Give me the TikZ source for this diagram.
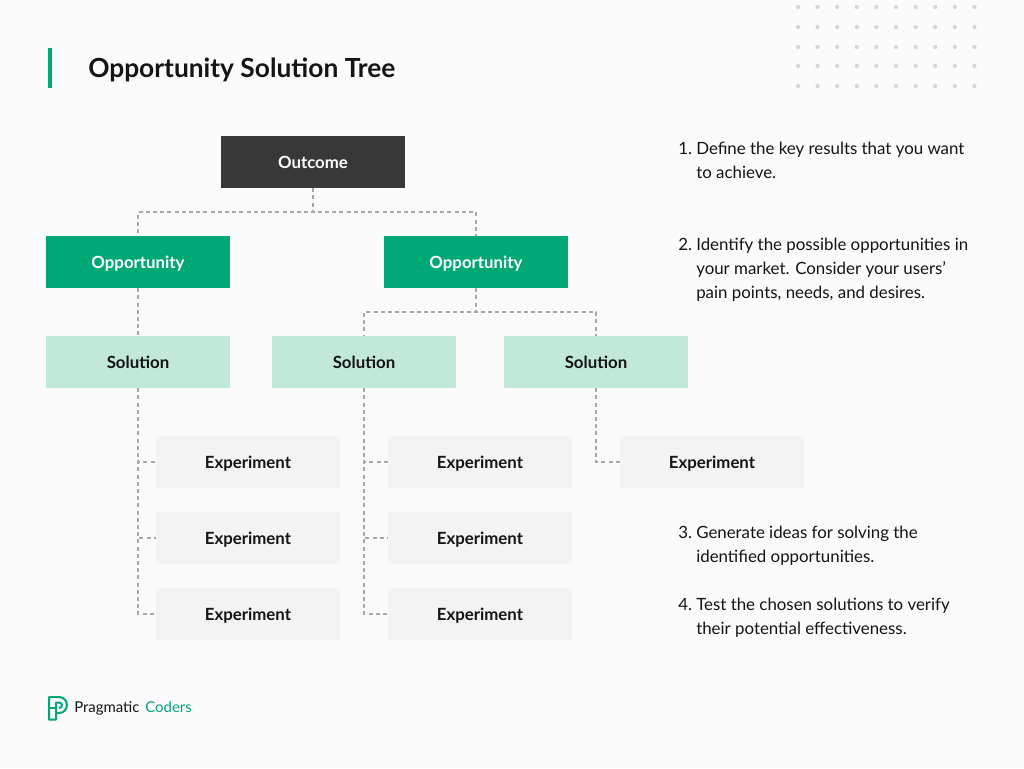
\documentclass[tikz,border=0pt]{standalone}
\usepackage{fontspec}
\setmainfont{Lato}
\usetikzlibrary{positioning}
\definecolor{bgpage}{HTML}{FBFBFB}
\definecolor{ink}{HTML}{141414}
\definecolor{darkbox}{HTML}{383838}
\definecolor{brand}{HTML}{00A876}
\definecolor{palegreen}{HTML}{C2E9D8}
\definecolor{palegrey}{HTML}{F3F3F3}
\definecolor{linkgrey}{HTML}{A8A8A8}
\definecolor{dotgrey}{HTML}{D6D6D6}
\tikzset{
  treebox/.style={minimum width=138pt,minimum height=39pt,inner sep=0pt,text height=9.5pt,text depth=0.5pt,font=\fontsize{12.6pt}{14pt}\selectfont\bfseries},
  outcomebox/.style={treebox,fill=darkbox,text=white},
  oppbox/.style={treebox,fill=brand,text=white},
  solbox/.style={treebox,fill=palegreen,text=ink},
  expbox/.style={treebox,fill=palegrey,text=ink},
  link/.style={draw=linkgrey,line width=1.6pt,dash pattern=on 3pt off 2.4pt},
  note/.style={anchor=base west,inner sep=0pt,text=ink,font=\fontsize{12.65pt}{14pt}\selectfont},
  logomark/.style={brand,line width=1.5pt,line join=round}
}
\begin{document}
\begin{tikzpicture}[x=0.75pt,y=-0.75pt]
  \useasboundingbox[fill=bgpage] (0,0) rectangle (1024,768);
  % dots top right
  \foreach \row in {7,27,47,66,86}
    \foreach \col in {0,...,9}
      \fill[dotgrey] (798+19.6*\col,\row) circle [radius=1.6pt];
  % title
  \fill[brand] (48,48) rectangle (52,88);
  \node (title) [anchor=base west,inner sep=0pt,text=ink,font=\fontsize{19.75pt}{22pt}\selectfont\bfseries] at (88,77.5) {Opportunity Solution Tree};
  % tree
  \node (outcome) [outcomebox] at (313,162) {Outcome};
  \node (oppa) [oppbox] at (138,262) {Opportunity};
  \node (oppb) [oppbox] at (476,262) {Opportunity};
  \node (sola) [solbox] at (138,362) {Solution};
  \node (solb) [solbox] at (364,362) {Solution};
  \node (solc) [solbox] at (596,362) {Solution};
  \node (expa) [expbox] at (248,462) {Experiment};
  \node (expb) [expbox] at (248,538) {Experiment};
  \node (expc) [expbox] at (248,614) {Experiment};
  \node (expd) [expbox] at (480,462) {Experiment};
  \node (expe) [expbox] at (480,538) {Experiment};
  \node (expf) [expbox] at (480,614) {Experiment};
  \node (expg) [expbox] at (712,462) {Experiment};
  % links
  \draw [link] (outcome.south) -- ++(0,24) -| (oppa.north);
  \draw [link] (outcome.south) -- ++(0,24) -| (oppb.north);
  \draw [link] (oppa.south) -- (sola.north);
  \draw [link] (oppb.south) -- ++(0,24) -| (solb.north);
  \draw [link] (oppb.south) -- ++(0,24) -| (solc.north);
  \draw [link] (sola.south) |- (expa.west);
  \draw [link] (sola.south) |- (expb.west);
  \draw [link] (sola.south) |- (expc.west);
  \draw [link] (solb.south) |- (expd.west);
  \draw [link] (solb.south) |- (expe.west);
  \draw [link] (solb.south) |- (expf.west);
  \draw [link] (solc.south) |- (expg.west);
  % notes
  \node (numa) [note] at (678,154) {1.};
  \node (notea) [note] at (696,154) {Define the key results that you want};
  \node (noteaa) [note] at (696,178) {to achieve.};
  \node (numb) [note] at (678,250) {2.};
  \node (noteb) [note] at (696,250) {Identify the possible opportunities in};
  \node (notebb) [note] at (696,274) {your market. Consider your users’};
  \node (notebc) [note] at (696,298) {pain points, needs, and desires.};
  \node (numc) [note] at (678,538) {3.};
  \node (notec) [note] at (696,538) {Generate ideas for solving the};
  \node (notecc) [note] at (696,562) {identified opportunities.};
  \node (numd) [note] at (678,610) {4.};
  \node (noted) [note] at (696,610) {Test the chosen solutions to verify};
  \node (notedd) [note] at (696,634) {their potential effectiveness.};
  % logo
  \draw [logomark] (56,713) -- (59,713) .. controls (69.5,713) and (69.5,697) .. (59,697) -- (49,697) -- (49,719.5) -- (56,719.5) -- (56,702.5) -- (59,702.5) .. controls (63,702.5) and (63,708) .. (59,708);
  \draw [logomark] (49,708) -- (56,708);
  \node (logoa) [anchor=base west,inner sep=0pt,text=ink,font=\fontsize{11.2pt}{12pt}\selectfont] at (74,712.5) {Pragmatic};
  \node (logob) [text=brand,font=\fontsize{11.2pt}{12pt}\selectfont,inner sep=0pt,anchor=base west] at ([xshift=4pt]logoa.base east) {Coders};
\end{tikzpicture}
\end{document}
